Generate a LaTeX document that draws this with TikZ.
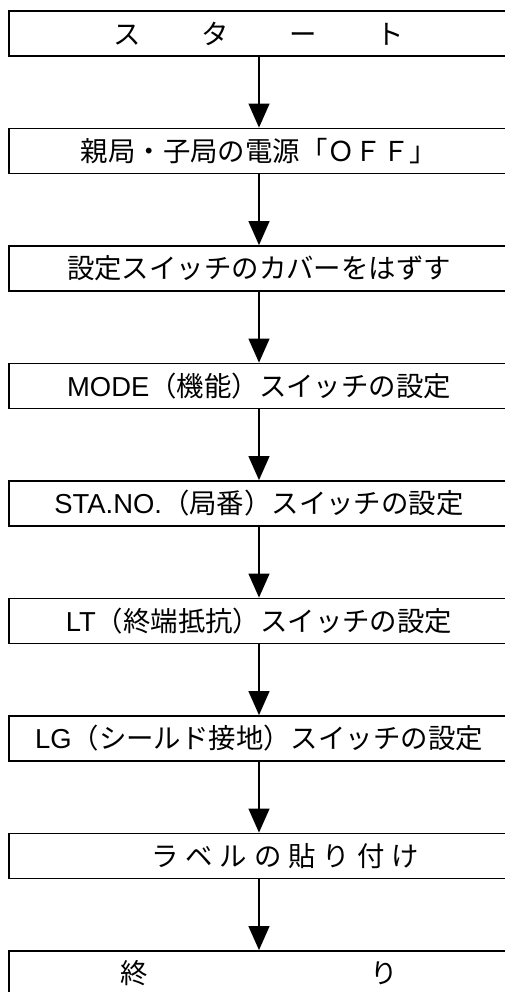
\documentclass[tikz,border=0pt]{standalone}
\usepackage{fontspec}
\setmainfont{Noto Sans CJK JP}
\newfontfamily\latinsans{Liberation Sans}
\usetikzlibrary{arrows.meta}
\tikzset{
  procbox/.style ={draw, line width=1.1pt, minimum width=12.5cm,
                   minimum height=1.13cm, inner sep=0pt,
                   font=\fontsize{19.5pt}{22pt}\selectfont},
  procedge/.style={-{Triangle[width=5.2mm,length=6mm]}, line width=1.3pt},
}
\newcommand{\gap}[1]{\hspace{#1em}}
\newcommand{\lat}[1]{{\latinsans #1}}

\begin{document}
\begin{tikzpicture}
  \useasboundingbox (0,0) rectangle (12.625,-24.8);

  \node[procbox] (start) at (6.475,-0.84)
    {ス\gap{2.2}タ\gap{2.2}ー\gap{2.2}ト};
  \node[procbox] (off) at (6.475,-3.775)
    {親局・子局の電源「ＯＦＦ」};
  \node[procbox] (cover) at (6.475,-6.7125)
    {設定スイッチのカバーをはずす};
  \node[procbox] (mode) at (6.475,-9.65)
    {\lat{MODE}（機能）スイッチの設定};
  \node[procbox] (stano) at (6.475,-12.5875)
    {\lat{STA.NO.}（局番）スイッチの設定};
  \node[procbox] (lt) at (6.475,-15.525)
    {\lat{LT}（終端抵抗）スイッチの設定};
  \node[procbox] (lg) at (6.475,-18.4625)
    {\lat{LG}（シールド接地）スイッチの設定};
  \node[procbox] (label) at (6.475,-21.4)
    {\hspace*{1.9em}ラ\gap{.25}ベ\gap{.25}ル\gap{.25}の\gap{.25}貼\gap{.25}り\gap{.25}付\gap{.25}け};
  \node[procbox] (fin) at (6.475,-24.3375)
    {終\gap{8.1}り};

  \draw[procedge] (start) -- (off);
  \draw[procedge] (off) -- (cover);
  \draw[procedge] (cover) -- (mode);
  \draw[procedge] (mode) -- (stano);
  \draw[procedge] (stano) -- (lt);
  \draw[procedge] (lt) -- (lg);
  \draw[procedge] (lg) -- (label);
  \draw[procedge] (label) -- (fin);

\end{tikzpicture}
\end{document}
